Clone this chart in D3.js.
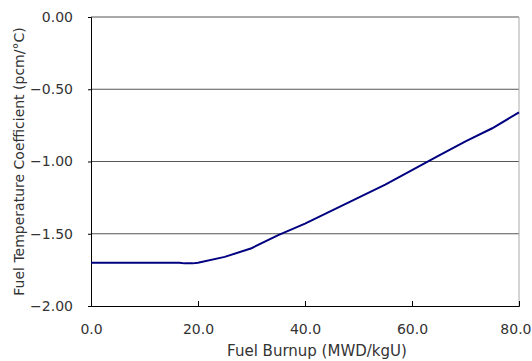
<!DOCTYPE html>
<html>
<head>
<meta charset="utf-8">
<script src="https://cdn.jsdelivr.net/npm/d3@7"></script>
<style>
  body { margin: 0; background: #fff; }
  text { font-family: "DejaVu Sans", sans-serif; fill: #333; }
</style>
</head>
<body>
<div id="vis"></div>
<script>
const width = 532;
const height = 361;

// data
const burnup = [0, 5, 10, 15, 16.5, 17.5, 19, 20, 25, 30, 35, 40, 45, 50, 55, 60, 65, 70, 75, 80];
const coefficient = [-1.70, -1.70, -1.70, -1.70, -1.70, -1.705, -1.705, -1.70, -1.66, -1.60, -1.51, -1.43, -1.34, -1.25, -1.16, -1.06, -0.96, -0.86, -0.77, -0.66];
const xTicks = [0, 20, 40, 60, 80];
const yTicks = [0, -0.5, -1.0, -1.5, -2.0];

const margin = {left: 91, right: 13, top: 17, bottom: 55};

let vis = d3.select('#vis')
            .append('svg')
            .attr('width', width)
            .attr('height', height);

const x = d3.scaleLinear()
            .domain([0, 80])
            .range([margin.left, width - margin.right]);

const y = d3.scaleLinear()
            .domain([-2, 0])
            .range([height - margin.bottom, margin.top]);

// gridlines
vis.append('g')
   .selectAll('line')
   .data(yTicks.filter(d => d > -2))
   .enter()
   .append('line')
   .attr('x1', x(0))
   .attr('x2', x(80))
   .attr('y1', d => y(d))
   .attr('y2', d => y(d))
   .attr('stroke', '#555')
   .attr('stroke-width', 1);

// right border
vis.append('line')
   .attr('x1', x(80)).attr('x2', x(80))
   .attr('y1', y(0)).attr('y2', y(-2))
   .attr('stroke', '#aaa');

// y axis
const yAxis = vis.append('g')
                 .attr('transform', `translate(${x(0)},0)`)
                 .call(d3.axisLeft(y)
                         .tickValues(yTicks)
                         .tickSize(3)
                         .tickPadding(15)
                         .tickFormat(d3.format('.2f')));

// x axis, ticks pointing inward
const xAxis = vis.append('g')
                 .attr('transform', `translate(0,${y(-2)})`)
                 .call(d3.axisBottom(x)
                         .tickValues(xTicks)
                         .tickSize(-5)
                         .tickPadding(18)
                         .tickFormat(d3.format('.1f')));

[yAxis, xAxis].forEach(a => {
    a.select('.domain').attr('stroke', '#000');
    a.selectAll('.tick line').attr('stroke', '#000');
    a.selectAll('text').attr('font-size', 14).style('fill', '#333').attr('font-family', '"DejaVu Sans", sans-serif');
});

// last label sits against the right edge
xAxis.selectAll('.tick text')
     .filter(d => d === 80)
     .attr('text-anchor', 'end')
     .attr('x', width - 1 - x(80));

// curve
const line = d3.line()
               .x((d, i) => x(burnup[i]))
               .y(d => y(d));

vis.append('path')
   .datum(coefficient)
   .attr('fill', 'none')
   .attr('stroke', '#000080')
   .attr('stroke-width', 2)
   .attr('d', line);

// axis titles
vis.append('text')
   .attr('x', 317)
   .attr('y', 356)
   .attr('text-anchor', 'middle')
   .attr('font-size', 15)
   .text('Fuel Burnup (MWD/kgU)');

vis.append('text')
   .attr('transform', `translate(24,${(y(0) + y(-2)) / 2}) rotate(-90)`)
   .attr('text-anchor', 'middle')
   .attr('font-size', 14)
   .text('Fuel Temperature Coefficient (pcm/°C)');
</script>
</body>
</html>
